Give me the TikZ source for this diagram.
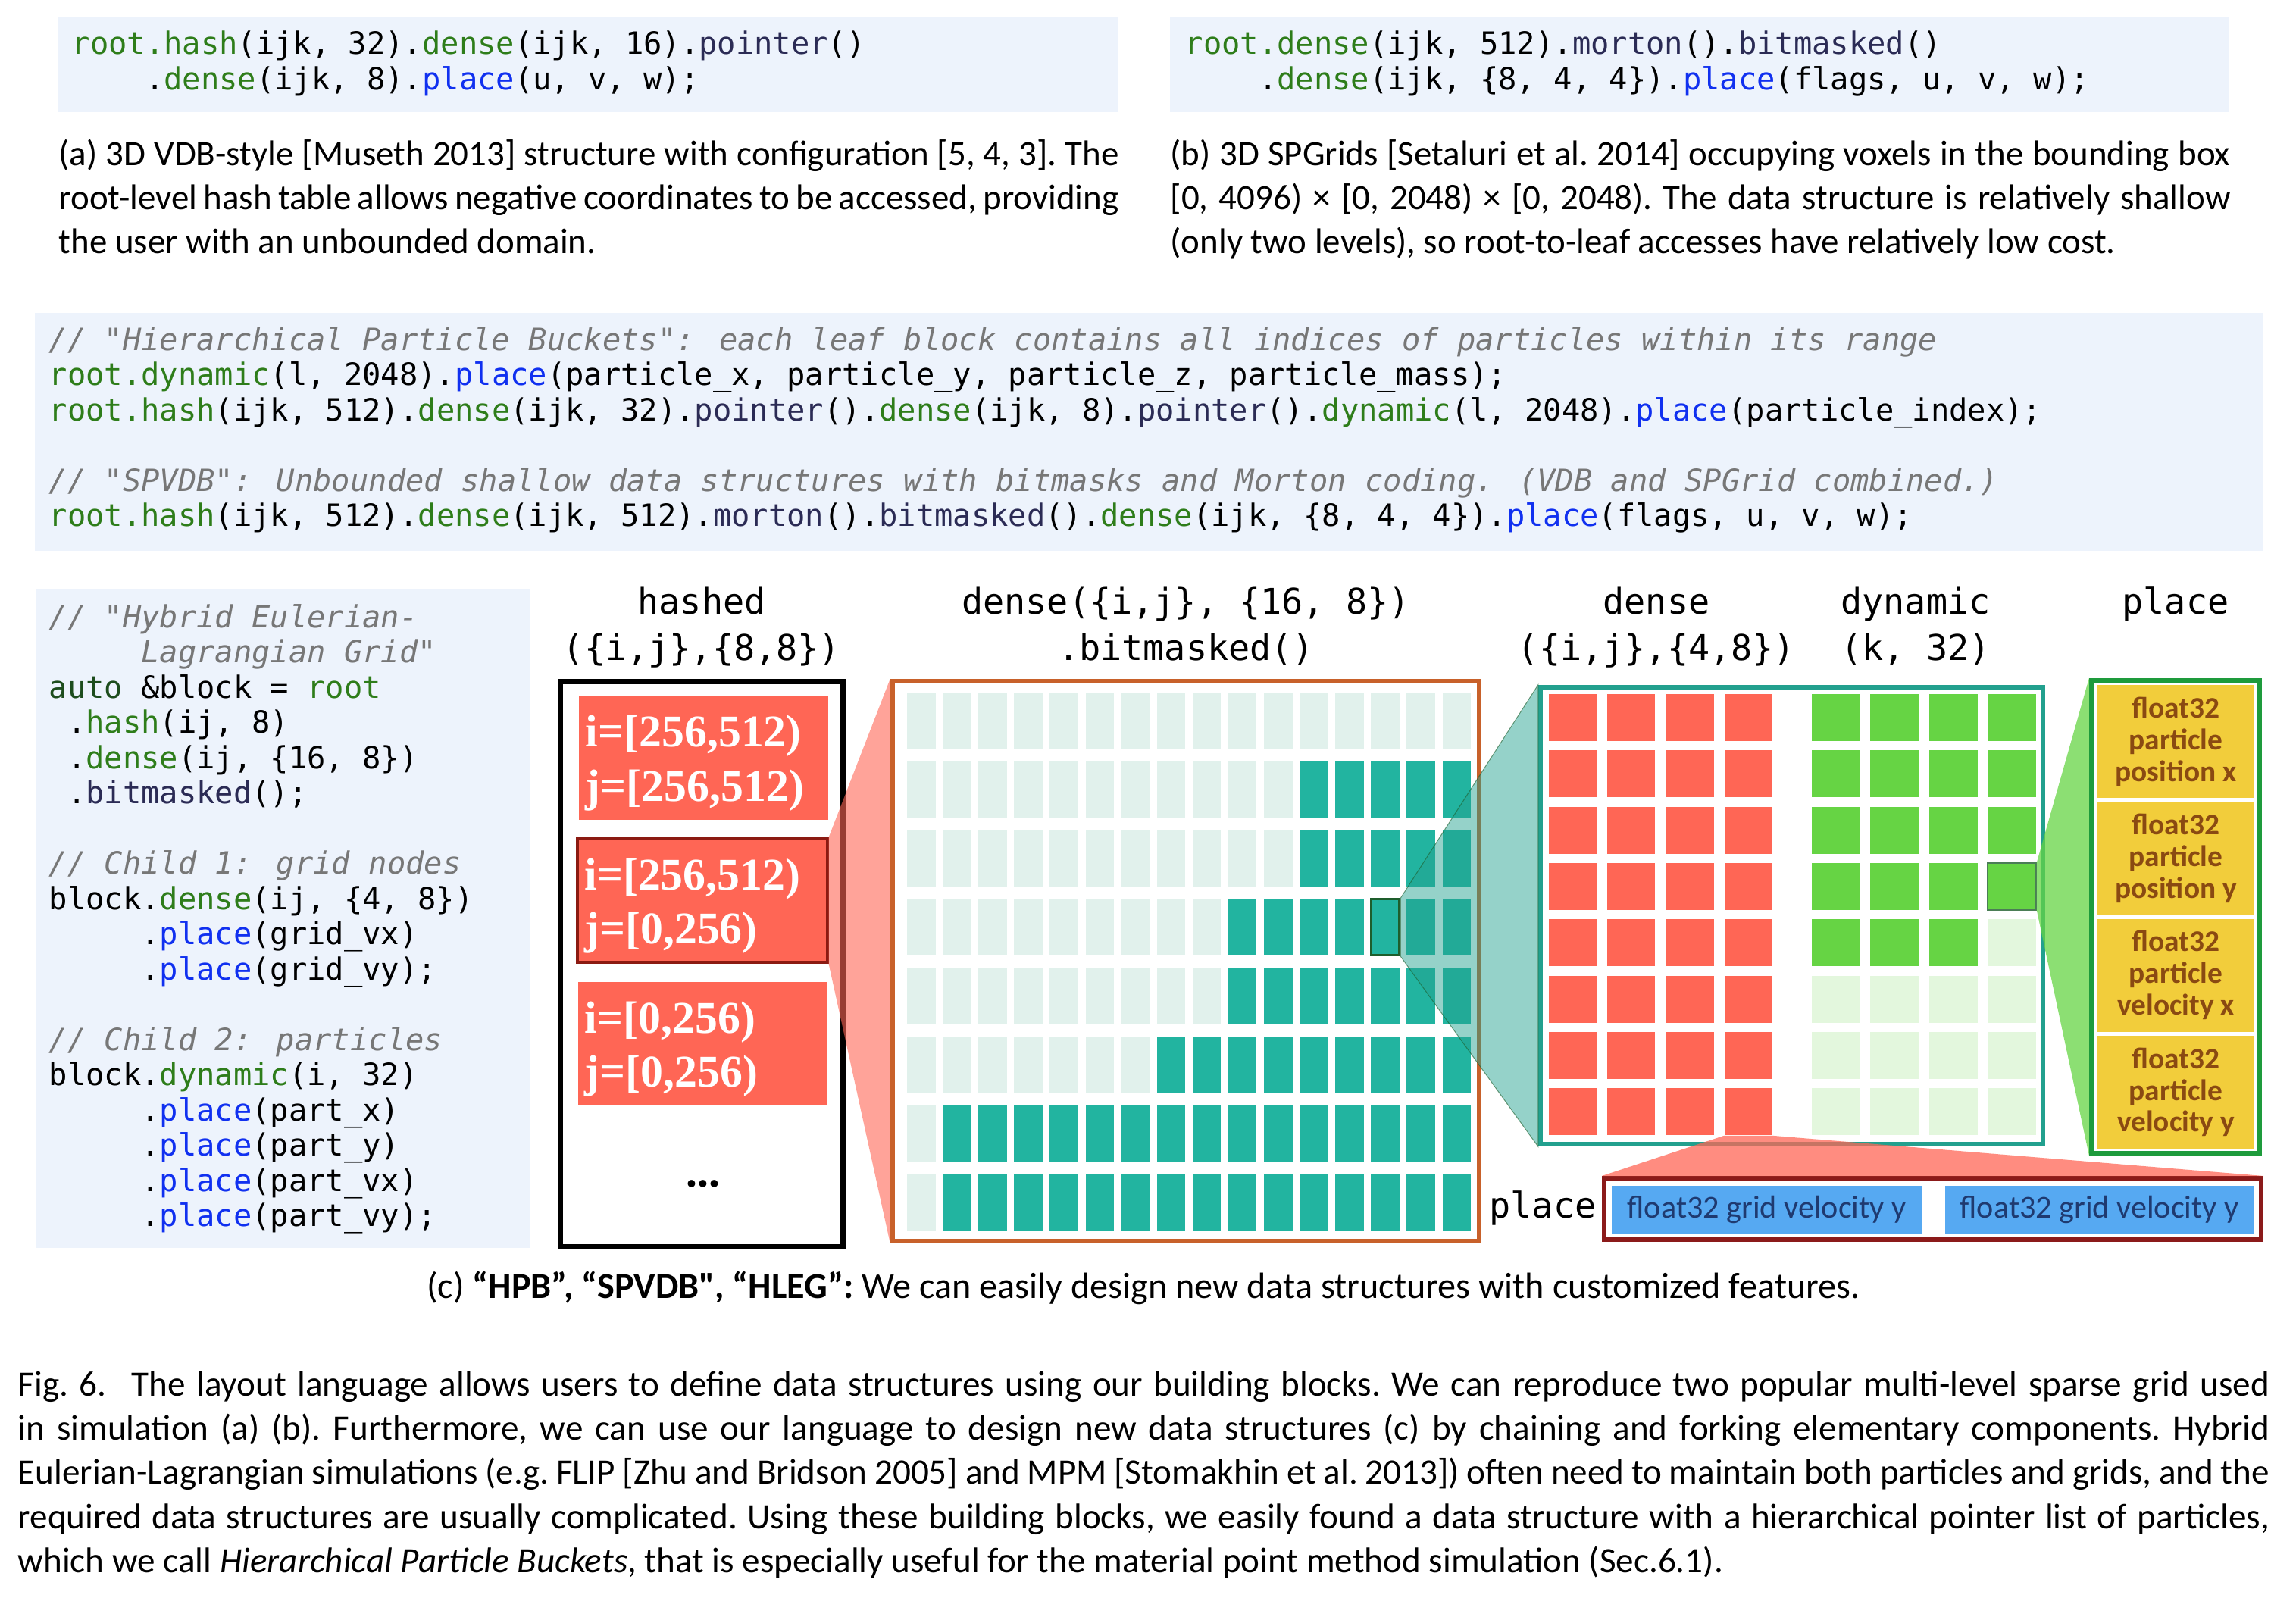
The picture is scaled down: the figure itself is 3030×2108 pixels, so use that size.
\documentclass[tikz,border=0pt]{standalone}
\usepackage{fontspec}
\newfontfamily\codefont{DejaVu Sans Mono}
\newfontfamily\capfont{Carlito}
\newfontfamily\cellfont{Liberation Serif}

\newcommand{\codekw}[1]{\textcolor{codeGreen}{#1}}
\newcommand{\codeau}[1]{\textcolor{codeDark}{#1}}
\newcommand{\codefn}[1]{\textcolor{codeNavy}{#1}}
\newcommand{\codepl}[1]{\textcolor{codeBlue}{#1}}
\newcommand{\codecm}[1]{\textcolor{codeGrey}{\itshape #1}}

\begin{document}
\begin{tikzpicture}[x=0.01cm, y=-0.01cm,
  codetext/.style={anchor=base west, inner sep=0, font=\codefont\fontsize{11.5}{13}\selectfont},
  collabel/.style={anchor=base, inner sep=0, font=\codefont\fontsize{13.3}{15}\selectfont},
  captext/.style={anchor=base west, inner sep=0, font=\capfont\frenchspacing\fontsize{13.35}{15}\selectfont},
  figtext/.style={anchor=base west, inner sep=0, font=\capfont\frenchspacing\fontsize{13.4}{15}\selectfont},
  hcell/.style={fill=hRed, text=white, align=left, inner xsep=0.09cm, inner ysep=0, text width=3.11cm,
    minimum width=3.29cm, minimum height=1.63cm, font=\cellfont\bfseries\fontsize{17}{20.4}\selectfont},
  ycell/.style={fill=pYellow, text=pBrown, align=center, inner sep=0, minimum width=2.07cm,
    minimum height=1.49cm, font=\capfont\bfseries\fontsize{11.2}{11.9}\selectfont},
  bcell/.style={fill=gBlue, text=gText, inner sep=0, minimum height=0.63cm,
    font=\capfont\fontsize{12}{14}\selectfont},
  frame/.style={draw=#1, line width=0.06cm, inner sep=0}]

% Colors define
\definecolor{codeBg}{HTML}{EDF3FC}
\definecolor{codeGreen}{HTML}{2E7D1A}
\definecolor{codeDark}{HTML}{1D4D1D}
\definecolor{codeNavy}{HTML}{2B2B55}
\definecolor{codeBlue}{HTML}{1030F0}
\definecolor{codeGrey}{HTML}{777777}
\definecolor{hRed}{HTML}{FF6655}
\definecolor{hDark}{HTML}{8B1A12}
\definecolor{denseOrange}{HTML}{C8612A}
\definecolor{denseOff}{HTML}{E1F1EC}
\definecolor{denseOn}{HTML}{22B4A0}
\definecolor{selGreen}{HTML}{1E5E2C}
\definecolor{tealBorder}{HTML}{22A08E}
\definecolor{partGreen}{HTML}{66D444}
\definecolor{partOff}{HTML}{E3F7DD}
\definecolor{placeGreen}{HTML}{1E9B3C}
\definecolor{pYellow}{HTML}{F2CD3B}
\definecolor{pBrown}{HTML}{8A4A12}
\definecolor{vRed}{HTML}{8B1A1A}
\definecolor{gBlue}{HTML}{56A9F2}
\definecolor{gText}{HTML}{1F3A70}

\useasboundingbox (0,0) rectangle (3030,2108);

% Code boxes
\fill[codeBg] (77,23) rectangle (1475,148);
\fill[codeBg] (1544,23) rectangle (2942,148);
\fill[codeBg] (46,413) rectangle (2986,727);
\fill[codeBg] (47,777) rectangle (700,1647);

% (a) and (b) code
\node[codetext] (codeA1) at (94,71) {\codekw{root.hash}(ijk, 32).\codekw{dense}(ijk, 16).\codefn{pointer}()};
\node[codetext] (codeA2) at (94,118) {~~~~.\codekw{dense}(ijk, 8).\codepl{place}(u, v, w);};
\node[codetext] (codeB1) at (1563,71) {\codekw{root.dense}(ijk, 512).\codefn{morton}().\codefn{bitmasked}()};
\node[codetext] (codeB2) at (1563,118) {~~~~.\codekw{dense}(ijk, \{8, 4, 4\}).\codepl{place}(flags, u, v, w);};

% (a) and (b) captions
\node[captext] (capA1) at (77,218) {\makebox[13.98cm][s]{(a) 3D VDB-style [Museth 2013] structure with configuration [5, 4, 3]. The}};
\node[captext] (capA2) at (77,276) {\makebox[13.98cm][s]{root-level hash table allows negative coordinates to be accessed, providing}};
\node[captext] (capA3) at (77,334) {the user with an unbounded domain.};
\node[captext] (capB1) at (1544,218) {\makebox[13.98cm][s]{(b) 3D SPGrids [Setaluri et al. 2014] occupying voxels in the bounding box}};
\node[captext] (capB2) at (1544,276) {\makebox[13.98cm][s]{[0, 4096) × [0, 2048) × [0, 2048). The data structure is relatively shallow}};
\node[captext] (capB3) at (1544,334) {(only two levels), so root-to-leaf accesses have relatively low cost.};

% Middle code
\foreach \codeline [count=\k from 0] in {
  {\codecm{// "Hierarchical Particle Buckets": each leaf block contains all indices of particles within its range}},
  {\codekw{root.dynamic}(l, 2048).\codepl{place}(particle\_x, particle\_y, particle\_z, particle\_mass);},
  {\codekw{root.hash}(ijk, 512).\codekw{dense}(ijk, 32).\codefn{pointer}().\codekw{dense}(ijk, 8).\codefn{pointer}().\codekw{dynamic}(l, 2048).\codepl{place}(particle\_index);},
  {},
  {\codecm{// "SPVDB": Unbounded shallow data structures with bitmasks and Morton coding. (VDB and SPGrid combined.)}},
  {\codekw{root.hash}(ijk, 512).\codekw{dense}(ijk, 512).\codefn{morton}().\codefn{bitmasked}().\codekw{dense}(ijk, \{8, 4, 4\}).\codepl{place}(flags, u, v, w);}}
  \node[codetext] (mid-\k) at (64,{462+46.5*\k}) {\codeline};

% Left code
\foreach \codeline [count=\k from 0] in {
  {\codecm{// "Hybrid Eulerian-}},
  {\codecm{~~~~~Lagrangian Grid"}},
  {\codeau{auto} \&block = \codekw{root}},
  {~.\codekw{hash}(ij, 8)},
  {~.\codekw{dense}(ij, \{16, 8\})},
  {~.\codefn{bitmasked}();},
  {},
  {\codecm{// Child 1: grid nodes}},
  {block.\codekw{dense}(ij, \{4, 8\})},
  {~~~~~.\codepl{place}(grid\_vx)},
  {~~~~~.\codepl{place}(grid\_vy);},
  {},
  {\codecm{// Child 2: particles}},
  {block.\codekw{dynamic}(i, 32)},
  {~~~~~.\codepl{place}(part\_x)},
  {~~~~~.\codepl{place}(part\_y)},
  {~~~~~.\codepl{place}(part\_vx)},
  {~~~~~.\codepl{place}(part\_vy);}}
  \node[codetext] (left-\k) at (64,{828+46.5*\k}) {\codeline};

% Column labels
\node[collabel] (labH1) at (926,810) {hashed};
\node[collabel] (labH2) at (926,871) {(\{i,j\},\{8,8\})};
\node[collabel] (labD1) at (1565,810) {dense(\{i,j\}, \{16, 8\})};
\node[collabel] (labD2) at (1565,871) {.bitmasked()};
\node[collabel] (labG1) at (2186,810) {dense};
\node[collabel] (labG2) at (2186,871) {(\{i,j\},\{4,8\})};
\node[collabel] (labP1) at (2528,810) {dynamic};
\node[collabel] (labP2) at (2528,871) {(k, 32)};
\node[collabel] (labPl) at (2871,810) {place};
\node[collabel] (labPl2) at (2036,1607) {place};

% Hashed block
\node[frame=black, line width=0.07cm, minimum width=3.72cm, minimum height=7.45cm] (hbox) at (926,1272.5) {};
\node[hcell] (h1) at (928.5,1000) {\rule{0pt}{15.9pt}i=[256,512)\\j=[256,512)};
\node[hcell, draw=hDark, line width=0.04cm] (h2) at (927,1188.5) {\rule{0pt}{15.9pt}i=[256,512)\\j=[0,256)};
\node[hcell] (h3) at (927.5,1377.5) {\rule{0pt}{15.9pt}i=[0,256)\\j=[0,256)};
\node[inner sep=0, font=\cellfont\bfseries\fontsize{17}{20}\selectfont] (hdots) at (928,1562) {...};

% Dense bitmasked block
\node[frame=denseOrange, minimum width=7.74cm, minimum height=7.39cm] (dbox) at (1565,1268.5) {};
\foreach \r/\s in {0/16,1/11,2/11,3/9,4/9,5/7,6/1,7/1}
  \foreach \c in {0,...,15} {
    \ifnum\c<\s \def\cellcol{denseOff}\else\def\cellcol{denseOn}\fi
    \fill[\cellcol] ({1197+47.1*\c},{914+90.9*\r}) rectangle +(37.5,74);
  }
\node[fill=denseOn, draw=selGreen, line width=0.03cm, minimum width=0.375cm, minimum height=0.74cm, inner sep=0] (gsel) at ({1197+47.1*13+18.75},{914+90.9*3+37}) {};

% Grid nodes and particles
\node[frame=tealBorder, minimum width=6.63cm, minimum height=6.03cm] (tbox) at (2364.5,1208.5) {};
\foreach \r in {0,...,7}
  \foreach \c in {0,...,3}
    \fill[hRed] ({2044+77.3*\c},{916+74.3*\r}) rectangle +(63,62);
\foreach \r/\n in {0/4,1/4,2/4,3/4,4/3,5/0,6/0,7/0}
  \foreach \c in {0,...,3} {
    \ifnum\c<\n \def\cellcol{partGreen}\else\def\cellcol{partOff}\fi
    \fill[\cellcol] ({2391+77.3*\c},{916+74.3*\r}) rectangle +(64,62);
  }
\node[fill=partGreen, draw=selGreen!80, line width=0.02cm, minimum width=0.64cm, minimum height=0.62cm, inner sep=0] (psel) at (2654.9,1169.9) {};
\node[fill=hRed, minimum width=0.63cm, minimum height=0.62cm, inner sep=0] (rsel) at (2307.4,1467.1) {};

% Particle place
\node[frame=placeGreen, minimum width=2.22cm, minimum height=6.24cm] (pbox) at (2871,1210) {};
\foreach \txt [count=\k from 0] in {{position x},{position y},{velocity x},{velocity y}}
  \node[ycell] (y\k) at (2871.5,{978.5+154.3*\k}) {float32\\particle\\\txt};

% Grid place
\node[frame=vRed, minimum width=8.67cm, minimum height=0.81cm] (gvbox) at (2550.5,1595.5) {};
\node[bcell, minimum width=4.09cm] (b1) at (2331.5,1596.5) {float32 grid velocity y};
\node[bcell, minimum width=4.07cm] (b2) at (2770.5,1596.5) {float32 grid velocity y};

% Zoom funnels
\fill[hRed, opacity=0.6] (h2.north east) -- (dbox.north west) -- (dbox.south west) -- (h2.south east) -- cycle;
\filldraw[fill=tealBorder, fill opacity=0.48, draw=selGreen, draw opacity=0.6, line width=0.01cm]
  (gsel.north east) -- (tbox.north west) -- (tbox.south west) -- (gsel.south east) -- cycle;
\fill[partGreen, opacity=0.75] (psel.north east) -- (pbox.north west) -- (pbox.south west) -- (psel.south east) -- cycle;
\fill[hRed, opacity=0.75] (rsel.south west) -- (gvbox.north west) -- (gvbox.north east) -- (rsel.south east) -- cycle;

% Captions
\node[anchor=base, inner sep=0, font=\capfont\frenchspacing\fontsize{13.7}{15}\selectfont] (capC) at (1509,1713)
  {(c) \textbf{“HPB”, “SPVDB", “HLEG”:} We can easily design new data structures with customized features.};
\node[figtext] (fig1) at (23,1842) {\makebox[29.7cm][s]{Fig. 6.\hspace{0.4em} The layout language allows users to define data structures using our building blocks. We can reproduce two popular multi-level sparse grid used}};
\node[figtext] (fig2) at (23,1900) {\makebox[29.7cm][s]{in simulation (a) (b). Furthermore, we can use our language to design new data structures (c) by chaining and forking elementary components. Hybrid}};
\node[figtext] (fig3) at (23,1958) {\makebox[29.7cm][s]{Eulerian-Lagrangian simulations (e.g. FLIP [Zhu and Bridson 2005] and MPM [Stomakhin et al. 2013]) often need to maintain both particles and grids, and the}};
\node[figtext] (fig4) at (23,2017) {\makebox[29.7cm][s]{required data structures are usually complicated. Using these building blocks, we easily found a data structure with a hierarchical pointer list of particles,}};
\node[figtext] (fig5) at (23,2075) {which we call \textit{Hierarchical Particle Buckets}, that is especially useful for the material point method simulation (Sec.6.1).};
\end{tikzpicture}
\end{document}
